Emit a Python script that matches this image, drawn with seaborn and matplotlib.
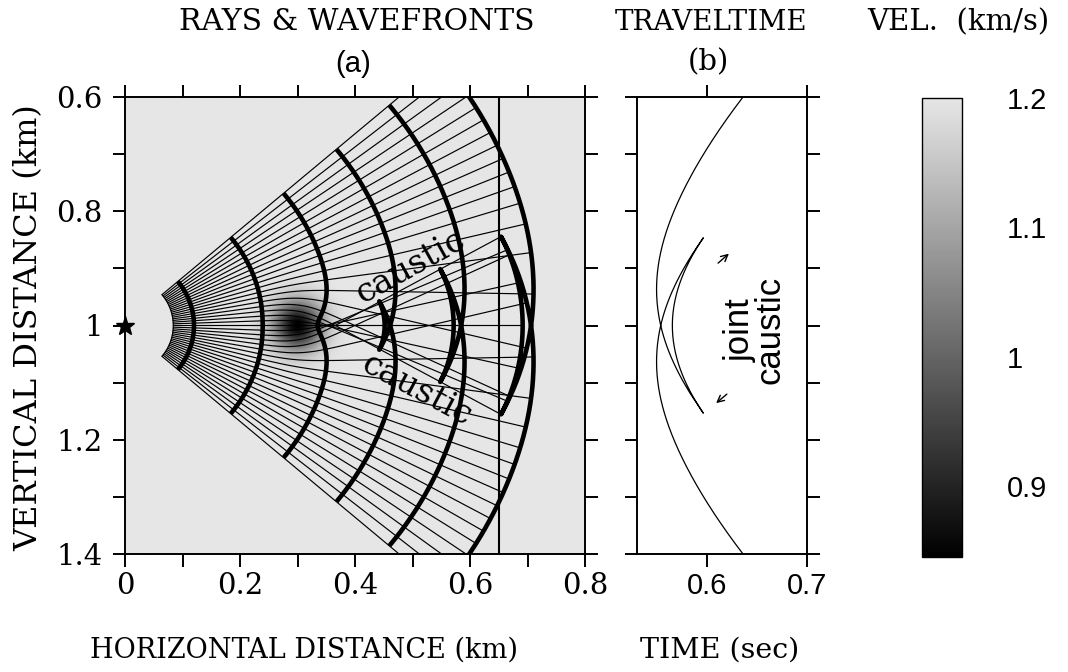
import numpy as np
import pandas as pd
import matplotlib
matplotlib.use('Agg')
import matplotlib.pyplot as plt
import seaborn as sns
from matplotlib.colors import LinearSegmentedColormap
from matplotlib.ticker import MultipleLocator, FormatStrFormatter

# velocity model: slow gaussian lens in a 1.2 km/s medium
v_background = 1.2
v_lens_min = 0.845
lens_center = [0.3, 1.0]
lens_width = 0.03
source = [0.0, 1.0]
receiver_x = 0.65

# ray fan and wavefront times
ray_angles = [-40, -38, -36, -34, -32, -30, -28, -26, -24, -22, -20, -18, -16, -14,
              -12, -10, -8, -6, -4, -2, 0, 2, 4, 6, 8, 10, 12, 14, 16, 18, 20, 22,
              24, 26, 28, 30, 32, 34, 36, 38, 40]
wavefront_times = [0.1, 0.2, 0.3, 0.4, 0.5, 0.6]
ray_start_time = 0.07
ray_end_time = 0.6

x_ticks_a = [0, 0.2, 0.4, 0.6, 0.8]
depth_ticks = [0.6, 0.8, 1.0, 1.2, 1.4]
time_ticks = [0.6, 0.7]
vel_ticks = [0.9, 1.0, 1.1, 1.2]

dt = 0.0005
dv = v_background - v_lens_min


def velocity(x, y):
    g = np.exp(-((x - lens_center[0])**2 + (y - lens_center[1])**2) / (2 * lens_width**2))
    return v_background - dv * g


def rhs(s):
    x, y, px, py = s
    g = np.exp(-((x - lens_center[0])**2 + (y - lens_center[1])**2) / (2 * lens_width**2))
    v = v_background - dv * g
    dvx = dv * g * (x - lens_center[0]) / lens_width**2
    dvy = dv * g * (y - lens_center[1]) / lens_width**2
    return np.stack([v * v * px, v * v * py, -dvx / v, -dvy / v])


def trace(angles, t_max):
    th = np.radians(np.asarray(angles, dtype=float))
    x0 = np.full(th.shape, source[0])
    y0 = np.full(th.shape, source[1])
    v0 = velocity(x0, y0)
    s = np.stack([x0, y0, np.cos(th) / v0, -np.sin(th) / v0])
    n = int(round(t_max / dt))
    out = np.empty((n + 1, 2, len(th)))
    out[0] = s[:2]
    for i in range(n):
        k1 = rhs(s)
        k2 = rhs(s + 0.5 * dt * k1)
        k3 = rhs(s + 0.5 * dt * k2)
        k4 = rhs(s + dt * k3)
        s = s + dt / 6 * (k1 + 2 * k2 + 2 * k3 + k4)
        out[i + 1] = s[:2]
    return out


rays = trace(ray_angles, ray_end_time)
fan_angles = np.linspace(ray_angles[0], ray_angles[-1], 801)
fan = trace(fan_angles, 0.8)

# traveltime along the receiver line
tt, yy = [], []
for j in range(fan.shape[2]):
    xs = fan[:, 0, j]
    k = np.argmax(xs >= receiver_x)
    if xs[k] < receiver_x:
        continue
    f = (receiver_x - xs[k - 1]) / (xs[k] - xs[k - 1])
    tt.append((k - 1 + f) * dt)
    yy.append(fan[k - 1, 1, j] + f * (fan[k, 1, j] - fan[k - 1, 1, j]))
df_tt = pd.DataFrame({'time': tt, 'depth': yy})

sns.set_theme(style='ticks')
serif = ['DejaVu Serif']
sans = ['Liberation Sans', 'DejaVu Sans']
plt.rcParams['font.family'] = serif
plt.rcParams['axes.linewidth'] = 1.4
for key in ['text.color', 'axes.labelcolor', 'axes.edgecolor', 'xtick.color', 'ytick.color']:
    plt.rcParams[key] = 'black'

fig = plt.figure(figsize=(10.68, 6.72), dpi=100)
W, H = 1068, 672
ax = fig.add_axes([125 / W, 1 - 554 / H, 460 / W, 457 / H])
axb = fig.add_axes([637 / W, 1 - 554 / H, 170 / W, 457 / H])
cax = fig.add_axes([922 / W, 1 - 557 / H, 40 / W, 459 / H])

cmap = LinearSegmentedColormap.from_list('vel', ['black', '#e6e6e6'])
gx = np.linspace(0, 0.8, 400)
gy = np.linspace(0.6, 1.4, 400)
GX, GY = np.meshgrid(gx, gy)
im = ax.imshow(velocity(GX, GY), extent=[0, 0.8, 1.4, 0.6], origin='upper',
               cmap=cmap, vmin=v_lens_min, vmax=v_background, aspect='auto',
               interpolation='bilinear')

i0 = int(round(ray_start_time / dt))
i1 = int(round(ray_end_time / dt))
for j in range(rays.shape[2]):
    ax.plot(rays[i0:i1 + 1, 0, j], rays[i0:i1 + 1, 1, j], color='black', lw=0.85)
ax.plot(fan[i0, 0], fan[i0, 1], color='black', lw=0.85)
for t in wavefront_times:
    k = int(round(t / dt))
    ax.plot(fan[k, 0], fan[k, 1], color='black', lw=3.3, solid_capstyle='butt')
ax.axvline(receiver_x, color='black', lw=1.5)
ax.plot(source[0], source[1], marker='*', ms=14, color='black', clip_on=False, zorder=6)

ax.text(0.496, 0.898, 'caustic', rotation=29, rotation_mode='anchor', ha='center',
        va='center', fontsize=24, family=serif)
ax.text(0.508, 1.113, 'caustic', rotation=-28, rotation_mode='anchor', ha='center',
        va='center', fontsize=24, family=serif)

ax.set_xlim(0, 0.8)
ax.set_ylim(1.4, 0.6)
ax.set_xticks(x_ticks_a)
ax.set_yticks(depth_ticks)
ax.xaxis.set_minor_locator(MultipleLocator(0.1))
ax.yaxis.set_minor_locator(MultipleLocator(0.1))
ax.xaxis.set_major_formatter(FormatStrFormatter('%g'))
ax.yaxis.set_major_formatter(FormatStrFormatter('%g'))
ax.tick_params(which='both', direction='out', length=9, width=1.4, top=True, right=True,
               labelsize=21, pad=4)
ax.tick_params(axis='y', which='major', pad=7)
for lab in ax.get_xticklabels() + ax.get_yticklabels():
    lab.set_family(serif)

# traveltime panel
sns.lineplot(data=df_tt, x='time', y='depth', sort=False, estimator=None, ax=axb,
             color='black', lw=0.9)
axb.set_xlim(0.53, 0.7)
axb.set_ylim(1.4, 0.6)
axb.set_xticks(time_ticks)
axb.xaxis.set_major_formatter(FormatStrFormatter('%g'))
axb.yaxis.set_major_locator(MultipleLocator(0.1))
axb.tick_params(which='both', direction='out', length=9, width=1.4, top=True, right=True,
                labelleft=False, labelsize=21, pad=4)
for lab in axb.get_xticklabels():
    lab.set_family(sans)
axb.set_xlabel('')
axb.set_ylabel('')
axb.text(0.648, 1.008, 'joint\ncaustic', rotation=90, ha='center', va='center',
         fontsize=25, family=sans, linespacing=0.85)
axb.annotate('', xy=(0.624, 0.871), xytext=(0.609, 0.894),
             arrowprops=dict(arrowstyle='->', lw=1, color='black'))
axb.annotate('', xy=(0.607, 1.139), xytext=(0.622, 1.117),
             arrowprops=dict(arrowstyle='->', lw=1, color='black'))

# colour bar
cb = fig.colorbar(im, cax=cax, ticks=vel_ticks)
cb.outline.set_linewidth(1)
cb.ax.tick_params(length=0, pad=32, labelsize=21)
cb.ax.yaxis.set_major_formatter(FormatStrFormatter('%g'))
for lab in cb.ax.get_yticklabels():
    lab.set_family(sans)

# labels and titles
fig.text(304 / W, 1 - 650 / H, 'HORIZONTAL DISTANCE (km)', ha='center', va='center',
         fontsize=19.5, family=serif)
fig.text(720 / W, 1 - 650 / H, 'TIME (sec)', ha='center', va='center', fontsize=20.5, family=serif)
fig.text(29 / W, 1 - 328 / H, 'VERTICAL DISTANCE (km)', rotation=90, ha='center',
         va='center', fontsize=23, family=serif)
fig.text(357 / W, 1 - 22 / H, 'RAYS & WAVEFRONTS', ha='center', va='center', fontsize=21.5,
         family=serif)
fig.text(711 / W, 1 - 22 / H, 'TRAVELTIME', ha='center', va='center', fontsize=20, family=serif)
fig.text(958 / W, 1 - 22 / H, 'VEL.  (km/s)', ha='center', va='center', fontsize=21, family=serif)
fig.text(353 / W, 1 - 64 / H, '(a)', ha='center', va='center', fontsize=21, family=sans)
fig.text(708 / W, 1 - 62 / H, '(b)', ha='center', va='center', fontsize=21, family=serif)

fig.savefig('out.png', dpi=100)
